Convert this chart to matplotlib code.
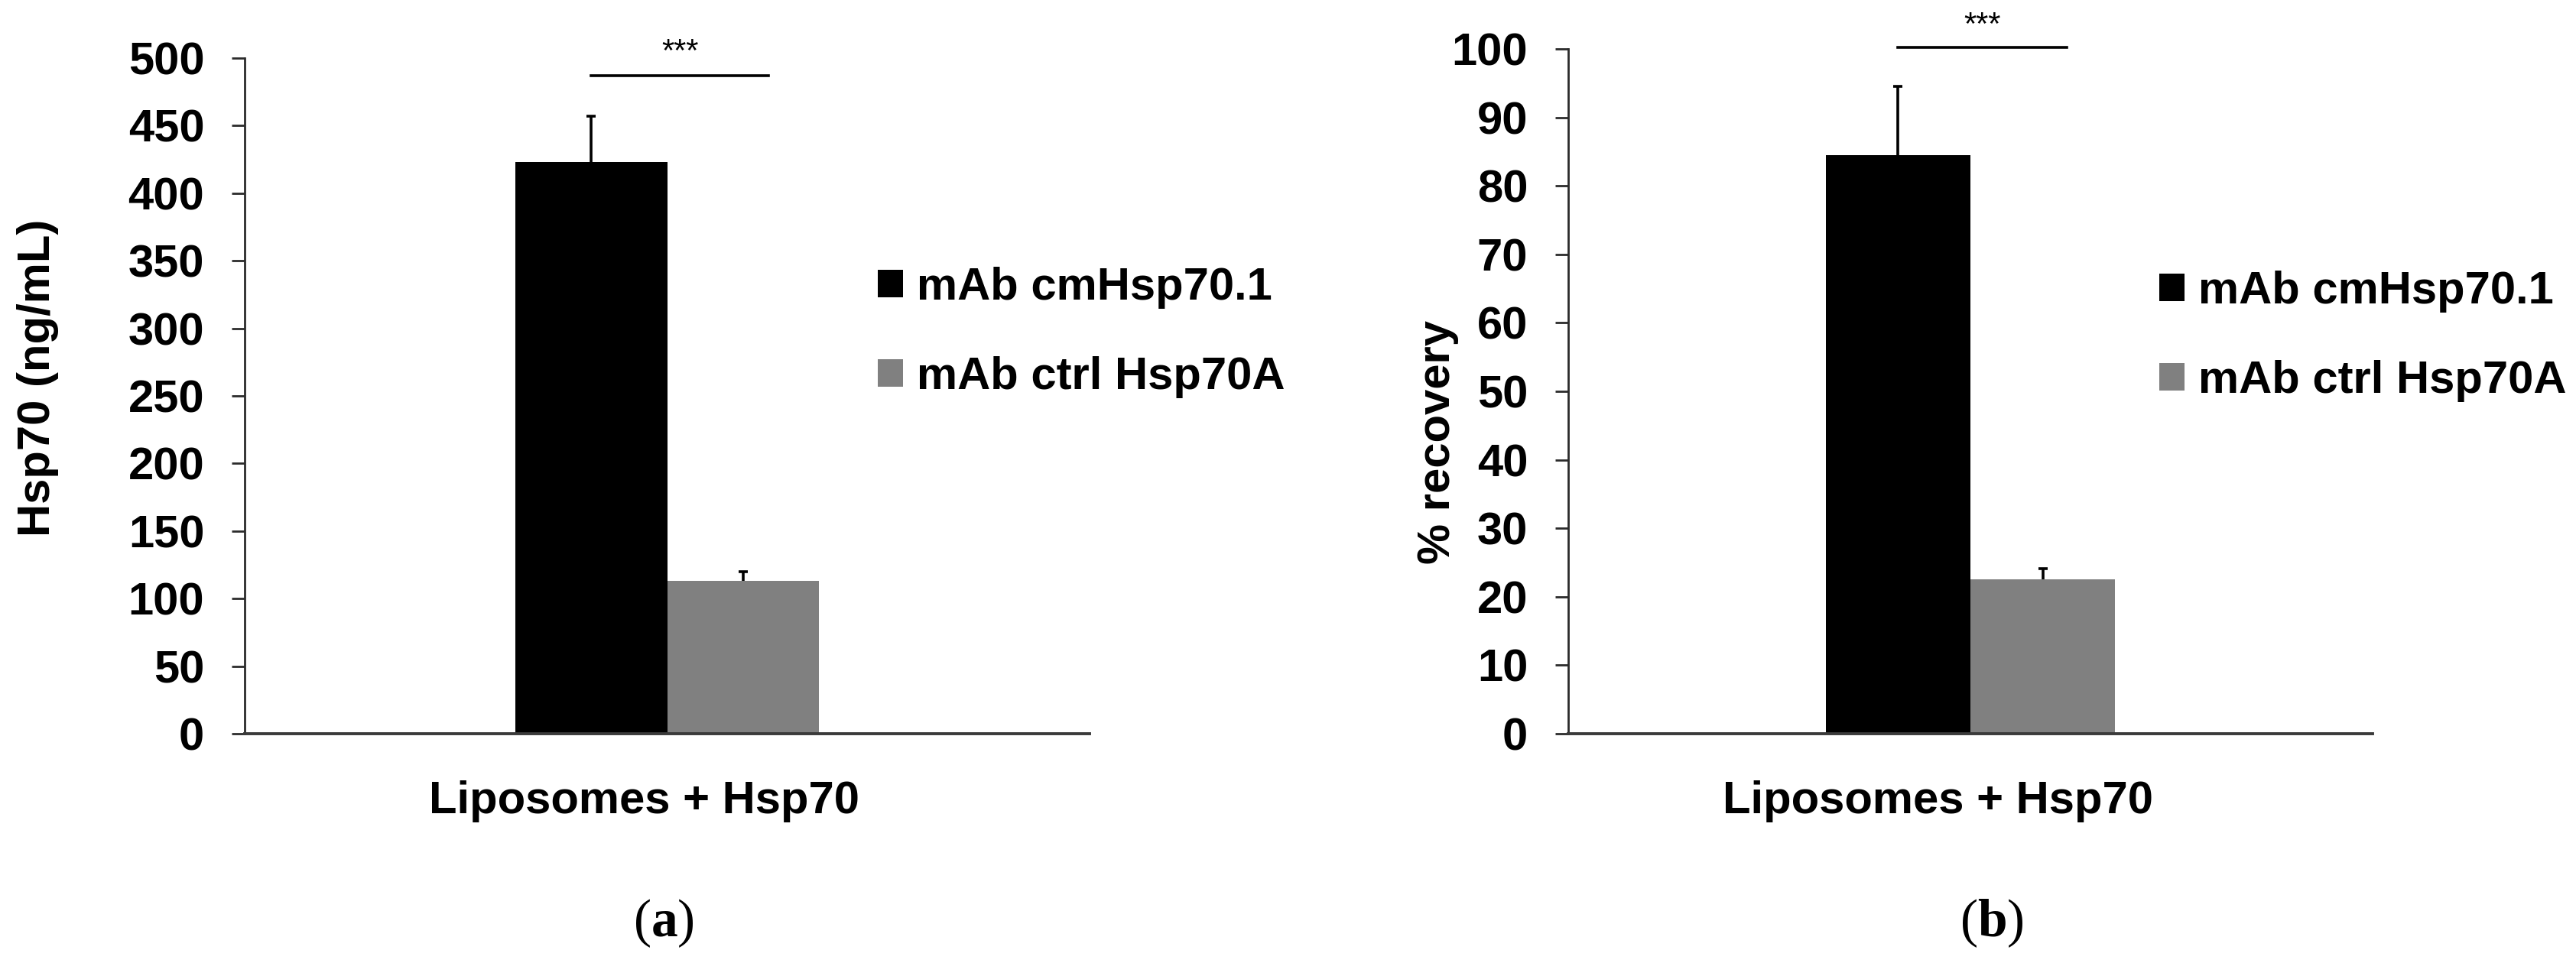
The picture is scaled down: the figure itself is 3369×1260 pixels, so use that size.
import matplotlib
matplotlib.use("Agg")
import matplotlib.pyplot as plt
import matplotlib.transforms as mtransforms
from matplotlib.patches import Patch
import numpy as np

plt.rcParams['font.family'] = ['Liberation Sans', 'DejaVu Sans']
plt.rcParams['font.weight'] = 'bold'
plt.rcParams['mathtext.fontset'] = 'custom'
plt.rcParams['mathtext.bf'] = 'Liberation Serif:bold'
plt.rcParams['mathtext.rm'] = 'Liberation Serif'

# data
groups = ['Liposomes + Hsp70']
series = ['mAb cmHsp70.1', 'mAb ctrl Hsp70A']
colors = ['#000000', '#808080']

hsp70_mean = [423, 113]
hsp70_err = [34, 7]

recovery_mean = [84.5, 22.5]
recovery_err = [10, 1.6]

sig_text = '***'

FS = 43
axis_col = '#2b2b2b'

fig = plt.figure(figsize=(33.69, 12.6), dpi=100)
ax_a = fig.add_axes([0.0950, 0.2381, 0.3280, 0.7016])
ax_b = fig.add_axes([0.6088, 0.2381, 0.3122, 0.7111])


def panel(ax, means, errs, ymax, ystep, sig_y, star_y, xshift):
    width = 0.18
    x = np.arange(len(groups))
    for i, (m, e) in enumerate(zip(means, errs)):
        pos = x + (i - 0.5) * width
        ax.bar(pos, [m], width, color=colors[i], edgecolor='none',
               label=series[i], zorder=2)
        # upper half of the error bar only, cap on top
        eb = ax.errorbar(pos, [m], yerr=[[0], [e]], fmt='none', ecolor='black',
                         elinewidth=2.6, capsize=4, capthick=2.6, zorder=3)
        eb[1][0].set_visible(False)
    # significance bar between the two series
    x0 = x[0] - 0.5 * width
    x1 = x[0] + 0.5 * width + 0.03
    ax.plot([x0, x1], [sig_y, sig_y], color='black', lw=2.6, clip_on=False)
    ax.text((x0 + x1) / 2, star_y, sig_text, ha='center', va='center',
            fontsize=30, fontweight='normal', clip_on=False)

    ax.set_xlim(-0.5, 0.5)
    ax.set_ylim(0, ymax)
    ax.set_yticks(np.arange(0, ymax + 1, ystep))
    ax.set_xticks(x)
    ax.set_xticklabels(groups, fontsize=FS, fontweight='bold')
    ax.tick_params(axis='x', length=0, pad=44)
    ax.tick_params(axis='y', length=12, width=2.0, color=axis_col,
                   labelsize=FS, pad=26)
    for lab in ax.get_yticklabels():
        lab.set_fontweight('bold')
    offset = mtransforms.ScaledTranslation(xshift, 0, fig.dpi_scale_trans)
    for lab in ax.get_xticklabels():
        lab.set_transform(lab.get_transform() + offset)
    for s in ['top', 'right']:
        ax.spines[s].set_visible(False)
    ax.spines['left'].set_linewidth(2.0)
    ax.spines['left'].set_color(axis_col)
    ax.spines['bottom'].set_linewidth(2.8)
    ax.spines['bottom'].set_color('#3a3a3a')


panel(ax_a, hsp70_mean, hsp70_err, 500, 50, 487, 504, -0.30)
panel(ax_b, recovery_mean, recovery_err, 100, 10, 100.2, 103.3, -0.42)

fig.text(50 / 3369, 1 - 494 / 1260, 'Hsp70 (ng/mL)', rotation=90,
         ha='center', va='center', fontsize=FS, fontweight='bold')
fig.text(1880 / 3369, 1 - 579 / 1260, '% recovery', rotation=90,
         ha='center', va='center', fontsize=FS, fontweight='bold')

handles = [Patch(facecolor=c, edgecolor='none') for c in colors]
for anchor in [(1148 / 3369, 1 - 435 / 1260), (2824 / 3369, 1 - 440 / 1260)]:
    fig.legend(handles, series, loc='center left', bbox_to_anchor=anchor,
               frameon=False, fontsize=FS, handlelength=0.55,
               handleheight=0.55, handletextpad=0.3, labelspacing=1.05,
               borderpad=0, borderaxespad=0,
               prop={'weight': 'bold', 'size': FS})

fig.text(868 / 3369, 1 - 1208 / 1260, r'($\mathbf{a}$)', ha='center',
         va='center', fontsize=50, family='Liberation Serif',
         fontweight='normal')
fig.text(2605 / 3369, 1 - 1208 / 1260, r'($\mathbf{b}$)', ha='center',
         va='center', fontsize=50, family='Liberation Serif',
         fontweight='normal')

fig.savefig('out.png', dpi=100, facecolor='white')
